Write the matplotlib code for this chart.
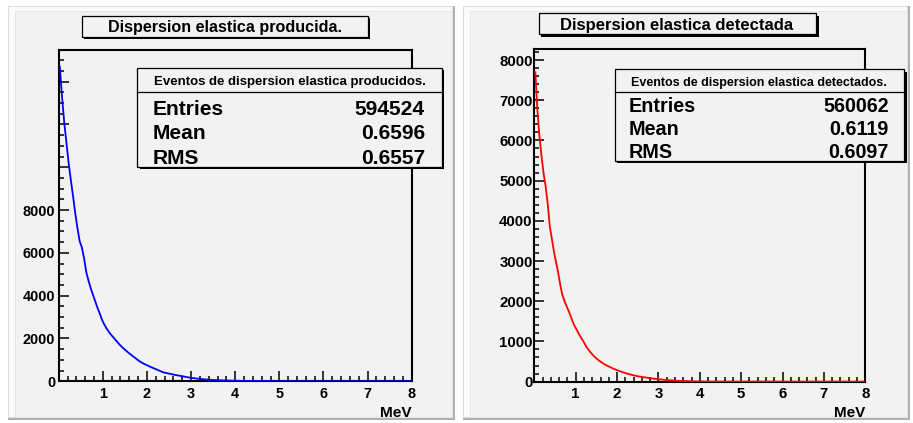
import numpy as np
import matplotlib.pyplot as plt
from matplotlib.patches import Rectangle
from matplotlib.ticker import MultipleLocator

plt.rcParams['font.family'] = ['Liberation Sans', 'DejaVu Sans']
plt.rcParams['font.weight'] = 'bold'

# histogram contents read at 0.05 MeV steps from 0 to 5 MeV (nothing above)
bin_width = 0.05
e_max = 8.0
produced = [14700, 13300, 12100, 11150, 10200, 9400, 8650, 7850, 7150, 6550,
            6250, 5750, 5100, 4700, 4350, 4050, 3750, 3450, 3200, 2900,
            2680, 2500, 2340, 2200, 2080, 1960, 1840, 1720, 1620, 1520,
            1430, 1340, 1260, 1180, 1100, 1020, 940, 880, 820, 770,
            720, 675, 630, 580, 540, 490, 450, 410, 390, 370,
            345, 320, 300, 280, 260, 240, 220, 200, 180, 165,
            150, 135, 125, 112, 100, 90, 82, 74, 66, 60,
            55, 50, 45, 41, 37, 34, 31, 28, 25, 23,
            21, 19, 17, 15, 14, 12, 11, 10, 9, 8,
            7, 6, 6, 5, 5, 4, 4, 3, 3, 3]
detected = [7700, 6750, 6100, 5600, 5180, 4850, 4420, 3850, 3550, 3230,
            2980, 2720, 2420, 2170, 2020, 1890, 1770, 1640, 1500, 1380,
            1290, 1190, 1100, 1020, 930, 840, 770, 710, 650, 600,
            555, 515, 480, 445, 415, 390, 365, 340, 315, 295,
            275, 255, 238, 222, 205, 190, 175, 162, 150, 138,
            128, 120, 110, 102, 94, 87, 80, 74, 68, 62,
            56, 50, 45, 40, 36, 32, 28, 25, 22, 20,
            17, 15, 13, 11, 9, 8, 7, 6, 5, 4,
            3, 3, 2, 2, 2, 1, 1, 1, 1, 1,
            0, 1, 0, 0, 0, 0, 0, 0, 0, 0]

titles = ['Dispersion elastica producida.', 'Dispersion elastica detectada']
headers = ['Eventos de dispersion elastica producidos.',
           'Eventos de dispersion elastica detectados.']
stat_names = ['Entries', 'Mean', 'RMS']
stat_prod = ['594524', '0.6596', '0.6557']
stat_det = ['560062', '0.6119', '0.6097']

W, H = 913, 423
PAD_GRAY = '#f2f2f2'

fig = plt.figure(figsize=(W / 100, H / 100), dpi=100)
fig.patch.set_facecolor('white')


def overlay(z):
    a = fig.add_axes([0, 0, 1, 1], zorder=z)
    a.set_xlim(0, W)
    a.set_ylim(H, 0)
    a.axis('off')
    a.patch.set_alpha(0)
    return a


bg = overlay(0)
fg = overlay(5)

# pads with bevel
for x0, x1 in [(8, 455), (463, 910)]:
    y0, y1 = 6, 420
    bg.add_patch(Rectangle((x0, y0), x1 - x0, y1 - y0, fc='#b0b0b0', ec='none'))
    bg.add_patch(Rectangle((x0, y0), x1 - x0 - 3, y1 - y0 - 3, fc='#fbfbfb',
                           ec='#dedede', lw=0.6))
    bg.add_patch(Rectangle((x0 + 7, y0 + 5), x1 - x0 - 10, y1 - y0 - 8,
                           fc=PAD_GRAY, ec='#e4e4e4', lw=0.6))


def make_axes(rect, values, color, ymax, major, minor, label_max, tick_fs,
              ypad):
    ax = fig.add_axes(rect, zorder=2)
    ax.set_facecolor(PAD_GRAY)
    n = int(round(e_max / bin_width))
    counts = np.concatenate([values, np.zeros(n - len(values))])
    centers = (np.arange(n) + 0.5) * bin_width
    ax.plot(np.r_[0, centers, e_max], np.r_[counts[0], counts, 0],
            color=color, lw=1.3, zorder=3, solid_joinstyle='miter')
    ax.set_xlim(0, e_max)
    ax.set_ylim(0, ymax)
    yt = np.arange(0, ymax, major)
    ax.set_yticks(yt)
    ax.set_yticklabels([f'{v:.0f}' if v <= label_max else '' for v in yt])
    ax.yaxis.set_minor_locator(MultipleLocator(minor))
    ax.set_xticks(np.arange(0, 9))
    ax.set_xticklabels([''] + [str(i) for i in range(1, 9)])
    ax.xaxis.set_minor_locator(MultipleLocator(0.2))
    ax.tick_params(which='both', direction='in', width=1.1, color='black',
                   top=False, right=False)
    ax.tick_params(which='major', length=7.2, labelsize=tick_fs)
    ax.tick_params(which='minor', length=3.6)
    ax.tick_params(axis='x', pad=4)
    ax.tick_params(axis='y', pad=ypad)
    for lab in ax.get_xticklabels() + ax.get_yticklabels():
        lab.set_fontweight('bold')
    for s in ax.spines.values():
        s.set_linewidth(1.5)
        s.set_color('black')
    return ax


make_axes([58.7 / W, (H - 381.2) / H, 353 / W, 331.2 / H], produced, '#0000ff',
          15480, 2000, 500, 8000, 10.4, 2.6)
make_axes([534.3 / W, (H - 381.6) / H, 331 / W, 332.3 / H], detected, '#ff0000',
          8268, 1000, 200, 8000, 10.8, 1.2)


def shadow_box(x0, y0, x1, y1):
    fg.add_patch(Rectangle((x0 + 2.5, y0 + 2.5), x1 - x0, y1 - y0,
                           fc='black', ec='none'))
    fg.add_patch(Rectangle((x0, y0), x1 - x0, y1 - y0, fc=PAD_GRAY,
                           ec='black', lw=0.9))


# title boxes
shadow_box(81.7, 16, 367.7, 36.7)
fg.text(224.6, 31.7, titles[0], ha='center', va='baseline', fontsize=11.6,
        fontweight='bold')
shadow_box(538.7, 13.3, 816.3, 34.3)
fg.text(676.7, 30, titles[1], ha='center', va='baseline', fontsize=12.0,
        fontweight='bold')

# stats boxes
shadow_box(137.3, 67.7, 441.7, 166.7)
fg.plot([137.3, 441.7], [92.3, 92.3], color='black', lw=0.9)
fg.text(289.7, 85, headers[0], ha='center', va='baseline', fontsize=9.5,
        fontweight='bold')
for name, val, yb in zip(stat_names, stat_prod, [115, 139.3, 164.3]):
    fg.text(152.7, yb, name, ha='left', va='baseline', fontsize=15.1,
            fontweight='bold')
    fg.text(425, yb, val, ha='right', va='baseline', fontsize=15.1,
            fontweight='bold')

shadow_box(614.7, 69.3, 904, 161)
fg.plot([614.7, 904], [92.3, 92.3], color='black', lw=0.9)
fg.text(759.3, 86, headers[1], ha='center', va='baseline', fontsize=9.0,
        fontweight='bold')
for name, val, yb in zip(stat_names, stat_det, [112.3, 135, 157.7]):
    fg.text(629, yb, name, ha='left', va='baseline', fontsize=14.2,
            fontweight='bold')
    fg.text(888.7, yb, val, ha='right', va='baseline', fontsize=14.2,
            fontweight='bold')

# axis titles
fg.text(411.7, 416.7, 'MeV', ha='right', va='baseline', fontsize=11.1,
        fontweight='bold')
fg.text(865.3, 416.7, 'MeV', ha='right', va='baseline', fontsize=11.0,
        fontweight='bold')

fig.savefig('out.png', dpi=100)
